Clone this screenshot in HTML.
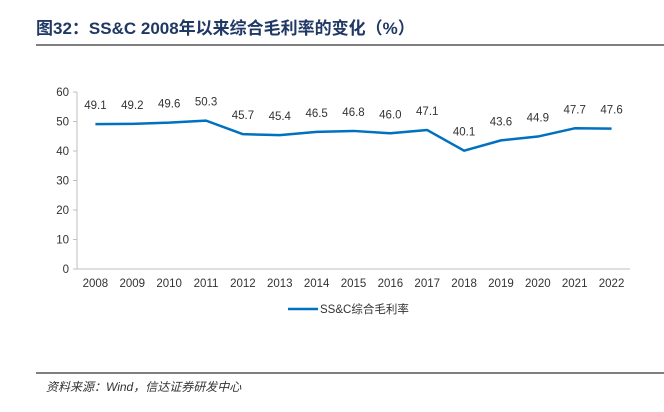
<!DOCTYPE html>
<html><head><meta charset="utf-8"><style>
body{margin:0;background:#fff;width:664px;height:407px;overflow:hidden;font-family:"Liberation Sans","Noto Sans CJK SC",sans-serif}
</style></head><body>
<svg width="664" height="407">
<text x="36" y="34" font-size="17" font-weight="bold" fill="#1f3864">图32：SS&amp;C 2008年以来综合毛利率的变化（%）</text>
<line x1="36" y1="45" x2="664" y2="45" stroke="#7f7f7f" stroke-width="2"/>
<g id="axes"></g>
<g id="series"></g>
<line x1="288" y1="309" x2="318" y2="309" stroke="#0070c0" stroke-width="2.5"/>
<text x="320" y="313" font-size="11.5" fill="#333">SS&amp;C综合毛利率</text>
<line x1="36" y1="373" x2="664" y2="373" stroke="#555" stroke-width="1.5"/>
<text x="46" y="391" font-size="12" font-style="italic" fill="#333">资料来源：Wind，信达证券研发中心</text>
</svg>
<script>
const years=["2008","2009","2010","2011","2012","2013","2014","2015","2016","2017","2018","2019","2020","2021","2022"];
const margins=[49.1,49.2,49.6,50.3,45.7,45.4,46.5,46.8,46.0,47.1,40.1,43.6,44.9,47.7,47.6];
const yTicks=[0,10,20,30,40,50,60];
const NS="http://www.w3.org/2000/svg";
const x0=77,x1=630,y0=269,y1=92;
const step=(x1-x0)/years.length;
const xs=i=>x0+step*(i+0.5);
const ys=v=>y0-(v/60)*(y0-y1);
const axes=document.getElementById('axes'),ser=document.getElementById('series');
function mk(tag,attrs,parent,txt){const e=document.createElementNS(NS,tag);for(const k in attrs)e.setAttribute(k,attrs[k]);if(txt!==undefined)e.textContent=txt;parent.appendChild(e);return e;}
let e=mk('line',{x1:x0,y1:y0,x2:x1,y2:y0,stroke:'#bfbfbf'},axes);


e=mk('line',{x1:x0,y1:y1,x2:x0,y2:y0,stroke:'#bfbfbf'},axes);


yTicks.forEach(t=>{
 let l=mk('line',{x1:x0-4,y1:ys(t),x2:x0,y2:ys(t),stroke:'#bfbfbf'},axes);
 
 
 let tx=mk('text',{x:x0-8,y:ys(t)+4,'font-size':11.5,fill:'#333','text-anchor':'end'},axes,t);
 
 
});
years.forEach((y,i)=>{
 let tx=mk('text',{x:xs(i),y:287,'font-size':11.5,fill:'#333','text-anchor':'middle'},axes,y);
 
 
});
const pts=margins.map((v,i)=>xs(i)+','+ys(v)).join(' ');
let pl=mk('polyline',{points:pts,fill:'none',stroke:'#0070c0','stroke-width':2.5,'stroke-linejoin':'round'},ser);


margins.forEach((v,i)=>{
 let tx=mk('text',{x:xs(i),y:ys(v)-15,'font-size':11.5,fill:'#333','text-anchor':'middle'},ser,v.toFixed(1));
 
 
});
</script>
</body></html>
